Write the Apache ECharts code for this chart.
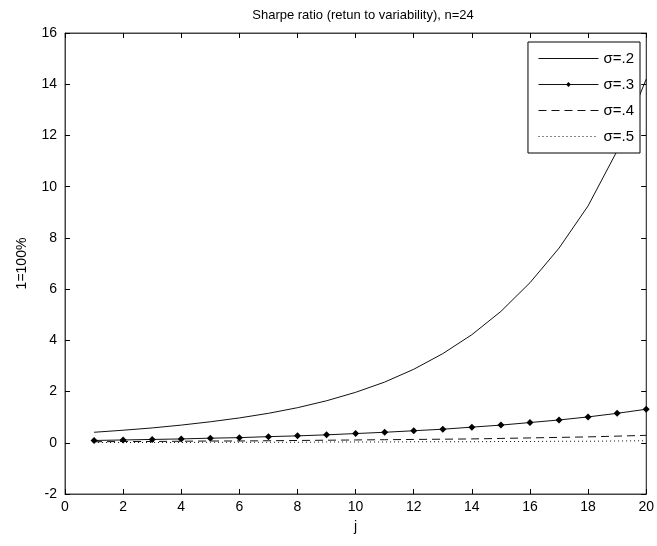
<!DOCTYPE html>
<html>
<head>
<meta charset="utf-8">
<script src="https://cdn.jsdelivr.net/npm/echarts@6/dist/echarts.min.js"></script>
<style>html,body{margin:0;padding:0;background:#fff;}#c{width:657px;height:546px;}</style>
</head>
<body>
<div id="c"></div>
<script>
var j = [1,2,3,4,5,6,7,8,9,10,11,12,13,14,15,16,17,18,19,20];
var s2 = [0.41,0.49,0.58,0.69,0.82,0.97,1.15,1.37,1.64,1.97,2.37,2.87,3.48,4.22,5.13,6.25,7.6,9.25,11.4,14.2];
var s3 = [0.09,0.11,0.13,0.15,0.18,0.20,0.24,0.27,0.31,0.36,0.41,0.47,0.53,0.61,0.69,0.79,0.89,1.01,1.15,1.31];
var s4 = [0.04,0.05,0.05,0.06,0.07,0.07,0.08,0.09,0.10,0.11,0.12,0.13,0.14,0.15,0.17,0.19,0.21,0.23,0.26,0.29];
var s5 = [0.01,0.01,0.01,0.01,0.02,0.02,0.02,0.02,0.03,0.03,0.03,0.04,0.04,0.04,0.05,0.05,0.06,0.06,0.07,0.08];
var names = ['σ=.2','σ=.3','σ=.4','σ=.5'];
var xTicks = {min:0, max:20, interval:2};
var yTicks = {min:-2, max:16, interval:2};

function pairs(v){ return j.map(function(x,i){return [x, v[i]];}); }
var font = 'Liberation Sans, Arial, sans-serif';
var chart = echarts.init(document.getElementById('c'));
function tick(){ return {show:true, inside:true, length:5, lineStyle:{color:'#000', width:1}}; }
function axLine(){ return {show:true, onZero:false, lineStyle:{color:'#444', width:1}}; }
var hiddenLegend = {itemStyle:{opacity:0}, lineStyle:{width:1}};
chart.setOption({
  animation:false,
  backgroundColor:'#fff',
  title:{text:'Sharpe ratio (retun to variability), n=24', left:358, textAlign:'center', top:4,
    textStyle:{fontFamily:font, fontSize:13, fontWeight:'normal', color:'#000'}},
  grid:{left:65, right:6, top:33, bottom:52, show:true, borderColor:'#444', borderWidth:1, backgroundColor:'transparent'},
  legend:{right:17, top:42, orient:'vertical', itemWidth:60, itemHeight:6, itemGap:11,
    backgroundColor:'#fff', borderColor:'#000', borderWidth:1, padding:[9,6,9,10],
    lineStyle:{width:1},
    textStyle:{fontFamily:font, fontSize:15, color:'#000'},
    data:[
      Object.assign({name:names[0]}, hiddenLegend),
      {name:names[1], lineStyle:{width:1}},
      Object.assign({name:names[2]}, hiddenLegend),
      Object.assign({name:names[3]}, hiddenLegend)
    ]},
  xAxis:[
    {type:'value', min:xTicks.min, max:xTicks.max, interval:xTicks.interval, position:'bottom',
     name:'j', nameLocation:'middle', nameGap:26, nameTextStyle:{fontFamily:font, fontSize:14, color:'#000'},
     axisLine:axLine(), axisTick:tick(), splitLine:{show:false},
     axisLabel:{fontFamily:font, fontSize:14, color:'#000', margin:6}},
    {type:'value', min:xTicks.min, max:xTicks.max, interval:xTicks.interval, position:'top',
     axisLine:axLine(), axisTick:tick(), splitLine:{show:false}, axisLabel:{show:false}}
  ],
  yAxis:[
    {type:'value', min:yTicks.min, max:yTicks.max, interval:yTicks.interval, position:'left',
     name:'1=100%', nameLocation:'middle', nameGap:36, nameTextStyle:{fontFamily:font, fontSize:14, color:'#000'},
     axisLine:axLine(), axisTick:tick(), splitLine:{show:false},
     axisLabel:{fontFamily:font, fontSize:14, color:'#000', margin:8}},
    {type:'value', min:yTicks.min, max:yTicks.max, interval:yTicks.interval, position:'right',
     axisLine:axLine(), axisTick:tick(), splitLine:{show:false}, axisLabel:{show:false}}
  ],
  series:[
    {name:names[0], type:'line', data:pairs(s2), symbol:'none', lineStyle:{color:'#111', width:1}, itemStyle:{color:'#000'}},
    {name:names[1], type:'line', data:pairs(s3), symbol:'diamond', symbolSize:7, lineStyle:{color:'#111', width:1}, itemStyle:{color:'#000'}},
    {name:names[2], type:'line', data:pairs(s4), symbol:'none', lineStyle:{color:'#111', width:1, type:[8,5]}, itemStyle:{color:'#000'}},
    {name:names[3], type:'line', data:pairs(s5), symbol:'none', lineStyle:{color:'#111', width:1, type:[1,3]}, itemStyle:{color:'#000'}},
    {name:'_axes', type:'line', xAxisIndex:1, yAxisIndex:1, data:[], silent:true, symbol:'none'}
  ]
});
</script>
</body>
</html>
